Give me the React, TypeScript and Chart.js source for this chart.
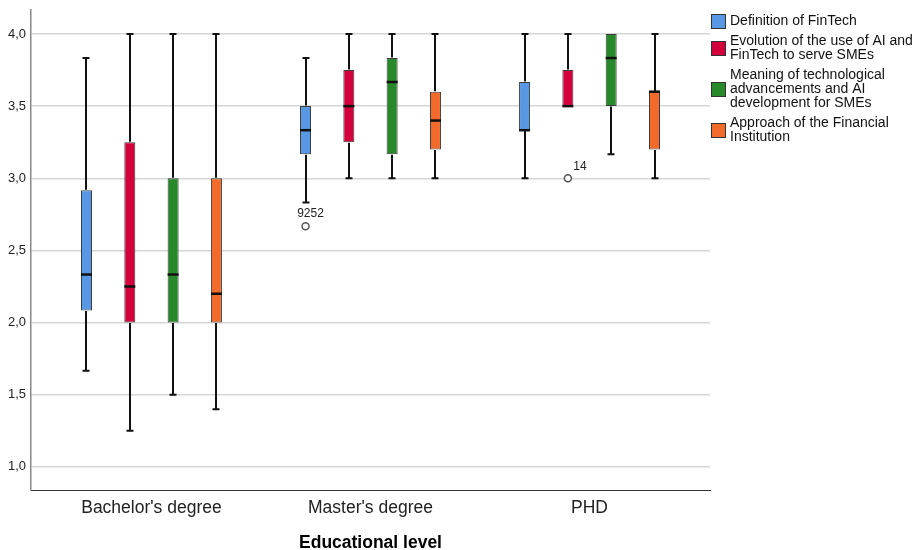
import { useEffect, useRef } from "react";
import { Chart, registerables } from "chart.js";
Chart.register(...registerables);

const categories = ["Bachelor's degree", "Master's degree", "PHD"];
const seriesLabels = [
  ["Definition of FinTech"],
  ["Evolution of the use of AI and", "FinTech to serve SMEs"],
  ["Meaning of technological", "advancements and AI", "development for SMEs"],
  ["Approach of the Financial", "Institution"],
];
const seriesColors = ["#5797e3", "#d3003c", "#28892b", "#f26b2b"];

// five-number summaries per category: [min, q1, median, q3, max]
const definitionStats = [
  [1.667, 2.083, 2.333, 2.917, 3.833],
  [2.833, 3.167, 3.333, 3.5, 3.833],
  [3.0, 3.333, 3.333, 3.667, 4.0],
];
const evolutionStats = [
  [1.25, 2.0, 2.25, 3.25, 4.0],
  [3.0, 3.25, 3.5, 3.75, 4.0],
  [3.5, 3.5, 3.5, 3.75, 4.0],
];
const meaningStats = [
  [1.5, 2.0, 2.333, 3.0, 4.0],
  [3.0, 3.167, 3.667, 3.833, 4.0],
  [3.167, 3.5, 3.833, 4.0, 4.0],
];
const approachStats = [
  [1.4, 2.0, 2.2, 3.0, 4.0],
  [3.0, 3.2, 3.4, 3.6, 4.0],
  [3.0, 3.2, 3.6, 3.6, 4.0],
];
const allStats = [definitionStats, evolutionStats, meaningStats, approachStats];

const outlierSeries = [0, 1];
const outlierCategory = [1, 2];
const outlierValues = [2.667, 3.0];
const outlierLabels = ["9252", "14"];
const outlierLabelDx = [5, 12];
const outlierLabelDy = [-13, -12];

const yMin = 0.84;
const yMax = 4.166;
const yStep = 0.5;
const xTitle = "Educational level";

const FONT = "'Liberation Sans', Arial, sans-serif";

const boxPlugin = {
  id: "boxDetails",
  afterDatasetsDraw(chart: any) {
    const ctx = chart.ctx;
    const ys = chart.scales.y;
    ctx.save();
    allStats.forEach((stats, si) => {
      const meta = chart.getDatasetMeta(si);
      meta.data.forEach((bar: any, ci: number) => {
        const [mn, q1, md, q3, mx] = stats[ci];
        const x = Math.round(bar.x);
        const w = bar.width;
        const pMin = ys.getPixelForValue(mn);
        const pQ1 = ys.getPixelForValue(q1);
        const pMd = ys.getPixelForValue(md);
        const pQ3 = ys.getPixelForValue(q3);
        const pMax = ys.getPixelForValue(mx);
        ctx.strokeStyle = "#111";
        ctx.lineWidth = 2;
        ctx.beginPath();
        if (mx > q3) {
          ctx.moveTo(x, pQ3 - 0.5);
          ctx.lineTo(x, pMax);
          ctx.moveTo(x - 3.5, pMax);
          ctx.lineTo(x + 3.5, pMax);
        }
        if (mn < q1) {
          ctx.moveTo(x, pQ1 + 0.5);
          ctx.lineTo(x, pMin);
          ctx.moveTo(x - 3.5, pMin);
          ctx.lineTo(x + 3.5, pMin);
        }
        ctx.stroke();
        ctx.lineWidth = 2.5;
        ctx.beginPath();
        ctx.moveTo(bar.x - w / 2, pMd);
        ctx.lineTo(bar.x + w / 2, pMd);
        ctx.stroke();
      });
    });
    // outliers
    outlierValues.forEach((v, i) => {
      const meta = chart.getDatasetMeta(outlierSeries[i]);
      const bar: any = meta.data[outlierCategory[i]];
      const x = bar.x;
      const y = ys.getPixelForValue(v);
      ctx.beginPath();
      ctx.arc(x, y, 3.5, 0, Math.PI * 2);
      ctx.fillStyle = "#fff";
      ctx.fill();
      ctx.strokeStyle = "#555";
      ctx.lineWidth = 1.5;
      ctx.stroke();
      ctx.fillStyle = "#222";
      ctx.font = `12px ${FONT}`;
      ctx.textAlign = "center";
      ctx.textBaseline = "middle";
      ctx.fillText(outlierLabels[i], x + outlierLabelDx[i], y + outlierLabelDy[i]);
    });
    ctx.restore();
  },
  afterDraw(chart: any) {
    const ctx = chart.ctx;
    const area = chart.chartArea;
    ctx.save();
    // x axis title
    ctx.fillStyle = "#000";
    ctx.font = `bold 17.5px ${FONT}`;
    ctx.textAlign = "center";
    ctx.textBaseline = "middle";
    ctx.fillText(xTitle, chart.scales.x.getPixelForValue(1), 543);
    // legend
    const lineH = 14;
    const gap = 6;
    let top = 14;
    const lx = area.right + 1;
    ctx.font = `14px ${FONT}`;
    ctx.textAlign = "left";
    seriesLabels.forEach((lines, i) => {
      const h = lines.length * lineH;
      const cy = top + h / 2;
      ctx.fillStyle = seriesColors[i];
      ctx.fillRect(lx, cy - 7, 15, 15);
      ctx.strokeStyle = "#333";
      ctx.lineWidth = 1;
      ctx.strokeRect(lx + 0.5, cy - 6.5, 14, 14);
      ctx.fillStyle = "#111";
      lines.forEach((t, j) => {
        ctx.fillText(t, lx + 19, top + lineH * j + lineH / 2);
      });
      top += h + gap;
    });
    ctx.restore();
  },
};

export default function App() {
  const ref = useRef<HTMLCanvasElement | null>(null);
  useEffect(() => {
    if (!ref.current) return;
    const chart = new Chart(ref.current, {
      type: "bar",
      data: {
        datasets: allStats.map((stats, si) => ({
          label: seriesLabels[si].join(" "),
          data: stats.map((s, ci) => ({ x: ci, y: [s[1], s[3]] })),
          backgroundColor: seriesColors[si],
          borderColor: "#3c3c3c",
          borderWidth: 1,
          borderSkipped: false,
          categoryPercentage: 0.791,
          barPercentage: 0.254,
        })),
      } as any,
      plugins: [boxPlugin],
      options: {
        animation: false,
        responsive: false,
        layout: { padding: { top: 10, right: 210, left: 0, bottom: 0 } },
        plugins: { legend: { display: false }, tooltip: { enabled: false } },
        scales: {
          x: {
            type: "linear",
            offset: false,
            min: -0.55,
            max: 2.55,
            afterBuildTicks: (scale: any) => {
              scale.ticks = categories.map((_, i) => ({ value: i }));
            },
            afterFit: (scale: any) => {
              scale.height = 60;
              scale.paddingLeft = 0;
              scale.paddingRight = 0;
            },
            grid: { display: false, drawTicks: false, offset: false },
            border: { display: true, color: "#333", width: 1 },
            ticks: {
              padding: 8,
              color: "#222",
              font: { family: FONT, size: 17.5 },
              callback: (v: any) => categories[Math.round(v)] ?? "",
              maxRotation: 0,
              autoSkip: false,
            },
          },
          y: {
            min: yMin,
            max: yMax,
            afterFit: (scale: any) => {
              scale.width = 31;
              scale.paddingTop = 0;
              scale.paddingBottom = 0;
            },
            grid: { color: "#d6d6d6", lineWidth: 1.5, drawTicks: false },
            border: { display: true, color: "#888", width: 1.5 },
            ticks: {
              stepSize: yStep,
              includeBounds: false,
              padding: 5,
              color: "#222",
              font: { family: FONT, size: 13 },
              callback: (v: any) => Number(v).toFixed(1).replace(".", ","),
            },
          },
        },
      } as any,
    });
    return () => chart.destroy();
  }, []);
  return (
    <div style={{ position: "fixed", left: 0, top: 0, width: 920, height: 550, background: "#fff" }}>
      <canvas ref={ref} width={920} height={550} />
    </div>
  );
}
